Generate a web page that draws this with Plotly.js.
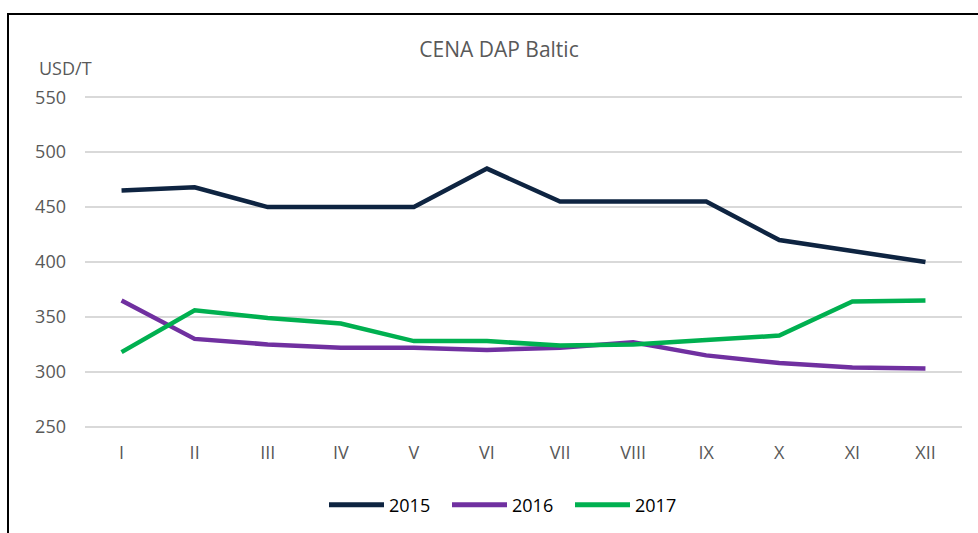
<!DOCTYPE html>
<html>
<head>
<meta charset="utf-8">
<script src="https://cdn.plot.ly/plotly-3.0.1.min.js"></script>
<style>
html,body{margin:0;padding:0;background:#fff;}
#chart{width:978px;height:533px;position:relative;}
#frame{position:absolute;left:7px;top:13px;width:990px;height:540px;border-left:2px solid #000;border-top:2px solid #000;pointer-events:none;}
</style>
</head>
<body>
<div id="chart"></div>
<div id="frame"></div>
<script>
const months = ["I","II","III","IV","V","VI","VII","VIII","IX","X","XI","XII"];
const y2015 = [465,468,450,450,450,485,455,455,455,420,410,400];
const y2016 = [365,330,325,322,322,320,322,327,315,308,304,303];
const y2017 = [318,356,349,344,328,328,324,325,329,333,364,365];
const seriesNames = ["2015","2016","2017"];
const seriesColors = ["#0e2441","#7030a0","#00b050"];
const yTicks = [250,300,350,400,450,500,550];

const W = 978, H = 533;
const M = {l:85, r:16, t:95.3, b:103.8};
const plotW = W - M.l - M.r, plotH = H - M.t - M.b;
const px2x = p => (p - M.l) / plotW;
const px2y = p => (H - M.b - p) / plotH;

const data = [y2015,y2016,y2017].map((v,i)=>({
  x: months, y: v, type:"scatter", mode:"lines", name: seriesNames[i],
  line:{color:seriesColors[i], width:4.5}, hoverinfo:"skip", showlegend:false
}));

// custom legend (line sample + label), built from series names/colours
const legendStart = 329, legendStep = 123, legendLine = 55, legendY = 505;
const shapes = seriesNames.map((n,i)=>({
  type:"line", xref:"paper", yref:"paper",
  x0: px2x(legendStart + i*legendStep), x1: px2x(legendStart + i*legendStep + legendLine),
  y0: px2y(legendY), y1: px2y(legendY),
  line:{color:seriesColors[i], width:5}
}));
const annotations = seriesNames.map((n,i)=>({
  text:n, xref:"paper", yref:"paper", showarrow:false,
  x: px2x(legendStart + i*legendStep + legendLine + 3), xanchor:"left",
  y: px2y(legendY), yanchor:"middle",
  font:{size:18, color:"#000"}
}));
annotations.push({text:"USD/T", xref:"paper", yref:"paper", x:px2x(37), xanchor:"left", y:px2y(68), yanchor:"middle", showarrow:false, font:{size:18,color:"#595959"}});

const layout = {
  width:W, height:H,
  margin:M,
  paper_bgcolor:"#fff", plot_bgcolor:"#fff",
  font:{family:"Open Sans, sans-serif", color:"#595959", size:18},
  title:{text:"CENA DAP Baltic", font:{size:21,color:"#595959"}, x:px2x(499), xref:"paper", xanchor:"center", y:(H-50)/H, yanchor:"middle", yref:"container"},
  xaxis:{type:"category", range:[-0.5,11.5], showgrid:false, zeroline:false, showline:false, ticks:"", ticklabelstandoff:11, tickfont:{size:18,color:"#595959"}, fixedrange:true},
  yaxis:{range:[248,552], tickvals:yTicks, showgrid:true, gridcolor:"#d9d9d9", gridwidth:2, zeroline:false, showline:false, ticks:"", ticklabelstandoff:18, tickfont:{size:18,color:"#595959"}, fixedrange:true},
  showlegend:false,
  shapes:shapes,
  annotations:annotations
};
Plotly.newPlot("chart", data, layout, {displayModeBar:false, staticPlot:true});
</script>
</body>
</html>
